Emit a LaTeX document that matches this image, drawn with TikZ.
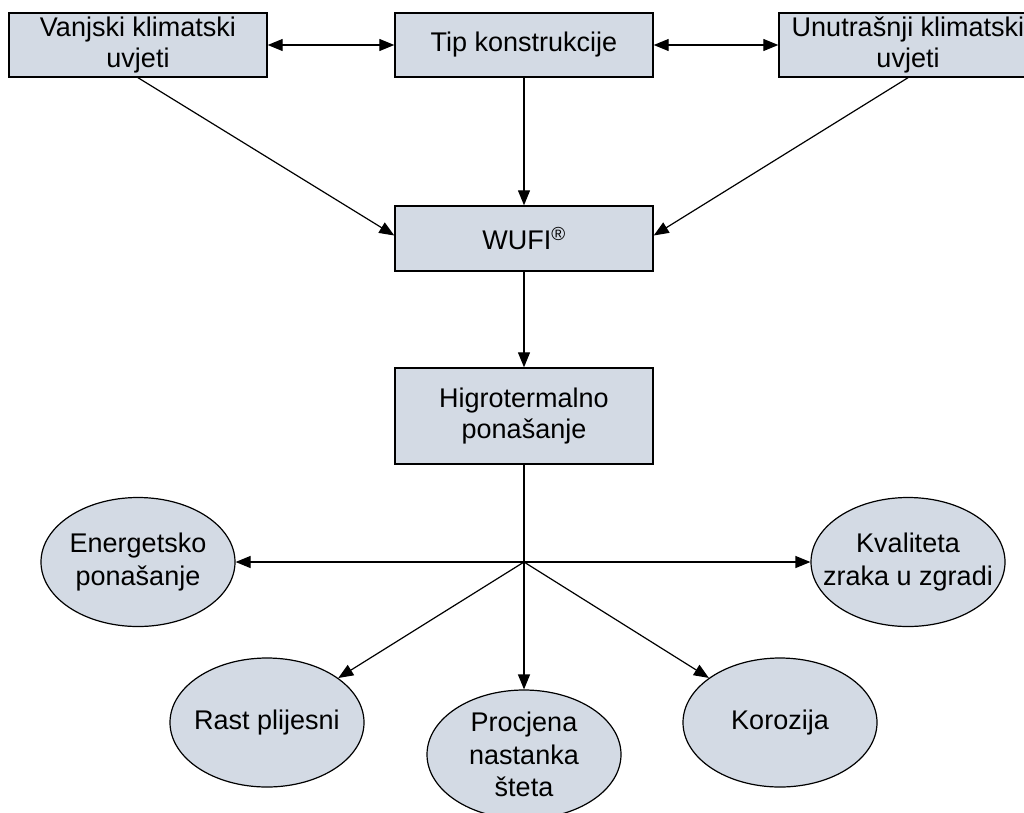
\documentclass[tikz,border=0pt]{standalone}
\usepackage{fontspec}
\setmainfont{Liberation Sans}
\usetikzlibrary{shapes.geometric,arrows.meta}
\definecolor{boxfill}{RGB}{211,218,228}
\begin{document}
\begin{tikzpicture}[x=1pt,y=-1pt,
  font=\fontsize{27}{31.5}\selectfont,
  box/.style={draw=black, line width=1.4pt, fill=boxfill, minimum width=258pt, minimum height=64pt, inner sep=0pt, align=center},
  ell/.style={draw=black, line width=1.2pt, fill=boxfill, ellipse, minimum width=194pt, minimum height=129pt, inner sep=0pt},
  txt/.style={align=center, inner sep=0pt, font=\fontsize{27}{32.5}\selectfont},
  arr/.style={line width=1.2pt, -{Triangle[length=15pt,width=12pt]}},
  darr/.style={line width=1.2pt, {Triangle[length=15pt,width=12pt]}-{Triangle[length=15pt,width=12pt]}},
  ln/.style={line width=1.2pt}]
\useasboundingbox (0,0) rectangle (1024,812);
\node[box] (van) at (138,45) {Vanjski klimatski\\uvjeti};
\node[box] (tip) at (524,45) {Tip konstrukcije};
\node[box] (unu) at (908,45) {Unutrašnji klimatski\\uvjeti};
\node[box, minimum height=65pt] (wufi) at (524,238.5) {WUFI\textsuperscript{®}};
\node[box, minimum height=96pt] (hig) at (524,416) {Higrotermalno\\ponašanje};
\coordinate (hub) at (524,562);
\node[ell, label={[txt]center:Energetsko\\ponašanje}] (ene) at (138,562) {};
\node[ell, label={[txt]center:Kvaliteta\\zraka u zgradi}] (kva) at (908,562) {};
\node[ell, label={[txt]center:Rast plijesni}] (rast) at (267,722.5) {};
\node[ell, label={[txt]center:Korozija}] (kor) at (780,722.5) {};
\node[ell, label={[txt]center:Procjena\\nastanka\\šteta}] (pro) at (524,754.5) {};
\draw[darr] (van.east) -- (tip.west);
\draw[darr] (tip.east) -- (unu.west);
\draw[arr] (van.south) -- ([yshift=3pt]wufi.west);
\draw[arr] (tip.south) -- (wufi.north);
\draw[arr] (unu.south) -- ([yshift=3pt]wufi.east);
\draw[arr] (wufi.south) -- (hig.north);
\draw[ln] (hig.south) -- (hub);
\draw[arr] (hub) -- (ene.east);
\draw[arr] (hub) -- (kva.west);
\draw[arr] (hub) -- (rast);
\draw[arr] (hub) -- (kor);
\draw[arr] (hub) -- (pro.north);
\end{tikzpicture}
\end{document}
